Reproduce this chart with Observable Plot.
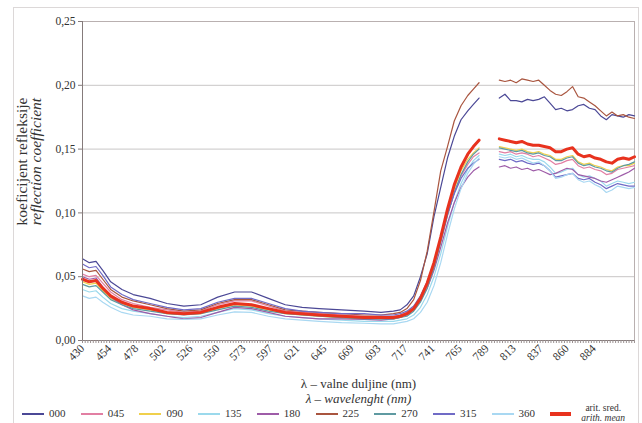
<!DOCTYPE html>
<html>
<head>
<meta charset="utf-8">
<script src="https://cdn.jsdelivr.net/npm/d3@7"></script>
<script src="https://cdn.jsdelivr.net/npm/@observablehq/plot@0.6"></script>
<style>
  body { margin: 0; background: #fff; }
  #wrap { position: relative; width: 642px; height: 423px; overflow: hidden; background: #fff;
          font-family: "Liberation Serif", "Times New Roman", "DejaVu Serif", serif; color: #333; }
  #frame { position: absolute; left: 13px; top: 7px; width: 624px; height: 440px; border: 1px solid #dcd8d8; }
  #chart { position: absolute; left: 0; top: 0; }
  #legend { position: absolute; left: 0; top: 403px; width: 642px; height: 20px; }
  .item { position: absolute; top: 0; height: 20px; }
  .swatch { position: absolute; left: 0; top: 10px; width: 22px; height: 2px; }
  .lab { position: absolute; left: 27px; top: 3px; font-size: 11px; line-height: 14px; white-space: nowrap; }
  .lab2 { position: absolute; left: 31px; top: 0px; font-size: 9.5px; line-height: 10px; white-space: nowrap; text-align: center; }
</style>
</head>
<body>
<div id="wrap">
  <div id="frame"></div>
  <div id="chart"></div>
  <div id="legend"></div>
</div>
<script>
// Wavelengths (nm); 791 marks the break in the measured spectrum
const wavelengths = [430,436,442,448,455,465,475,490,505,520,535,550,565,580,595,610,625,640,660,680,695,706,712,718,724,730,736,742,748,754,760,766,772,777,782,
  791,
  800,805,810,815,820,825,830,835,840,845,850,855,860,865,870,875,880,885,890,895,900,905,910,915,920];

// Reflection coefficient per measuring direction
const r000 = [.064,.061,.062,.055,.046,.040,.036,.033,.029,.027,.028,.034,.038,.038,.033,.028,.026,.025,.024,.023,.022,.023,.024,.028,.035,.050,.068,.097,.120,.143,.160,.173,.180,.185,.190,
  null,
  .190,.193,.188,.188,.187,.189,.188,.189,.191,.186,.181,.182,.180,.181,.184,.185,.182,.181,.176,.173,.177,.176,.175,.177,.176];
const r045 = [.052,.050,.051,.045,.038,.032,.029,.026,.024,.022,.023,.028,.031,.031,.027,.023,.022,.021,.020,.019,.019,.019,.020,.022,.026,.033,.044,.059,.078,.098,.116,.129,.138,.144,.147,
  null,
  .148,.147,.148,.146,.147,.146,.144,.145,.143,.141,.138,.139,.141,.142,.137,.135,.136,.134,.133,.130,.131,.134,.135,.136,.137];
const r090 = [.046,.044,.045,.039,.033,.029,.026,.024,.021,.0205,.021,.025,.028,.027,.024,.021,.020,.019,.018,.0175,.017,.017,.018,.020,.024,.032,.044,.060,.080,.101,.119,.133,.142,.147,.151,
  null,
  .152,.151,.150,.149,.150,.148,.147,.148,.146,.145,.142,.142,.144,.145,.140,.138,.139,.137,.136,.134,.133,.136,.137,.137,.139];
const r135 = [.040,.038,.039,.034,.029,.025,.023,.021,.019,.018,.019,.022,.025,.024,.021,.019,.018,.017,.016,.015,.015,.015,.016,.017,.020,.026,.036,.050,.068,.089,.108,.123,.134,.141,.145,
  null,
  .146,.145,.146,.144,.145,.143,.142,.142,.140,.136,.131,.132,.134,.135,.130,.128,.129,.127,.125,.121,.123,.125,.124,.123,.124];
const r180 = [.050,.048,.049,.042,.034,.028,.024,.021,.019,.017,.018,.022,.026,.025,.022,.019,.018,.017,.017,.0165,.016,.017,.018,.020,.024,.031,.041,.055,.073,.092,.108,.120,.128,.133,.136,
  null,
  .136,.137,.135,.136,.134,.135,.133,.134,.132,.130,.131,.133,.135,.134,.130,.129,.128,.127,.125,.124,.126,.128,.130,.132,.135];
const r225 = [.056,.054,.055,.048,.040,.034,.031,.028,.025,.023,.024,.029,.032,.032,.028,.024,.023,.022,.021,.020,.020,.021,.022,.025,.032,.047,.070,.101,.133,.152,.172,.184,.192,.197,.202,
  null,
  .204,.203,.204,.202,.205,.204,.203,.204,.200,.196,.193,.192,.195,.199,.191,.190,.187,.184,.180,.176,.179,.176,.177,.175,.174];
const r270 = [.044,.042,.043,.038,.032,.028,.025,.023,.021,.020,.021,.024,.027,.026,.023,.021,.020,.019,.018,.017,.017,.017,.018,.019,.023,.030,.041,.057,.077,.098,.116,.130,.140,.146,.150,
  null,
  .151,.150,.149,.148,.149,.147,.146,.147,.145,.144,.141,.141,.143,.144,.139,.137,.138,.136,.135,.133,.132,.135,.137,.138,.140];
const r315 = [.060,.057,.058,.051,.042,.036,.032,.029,.026,.024,.025,.030,.033,.033,.029,.025,.023,.022,.021,.021,.020,.020,.021,.023,.027,.035,.046,.061,.079,.099,.115,.127,.135,.139,.142,
  null,
  .142,.141,.142,.140,.141,.139,.138,.139,.137,.133,.128,.129,.130,.131,.127,.126,.127,.124,.122,.119,.121,.123,.122,.121,.121];
const r360 = [.035,.033,.034,.030,.026,.022,.020,.019,.017,.0165,.017,.020,.0225,.022,.019,.017,.016,.015,.014,.0135,.013,.013,.014,.015,.017,.022,.030,.043,.061,.083,.103,.119,.131,.138,.143,
  null,
  .144,.143,.144,.142,.143,.141,.139,.140,.137,.133,.127,.128,.130,.131,.126,.124,.125,.122,.120,.116,.118,.121,.120,.119,.120];
// Arithmetic mean of the nine directions
const rMean = [.048,.046,.047,.041,.035,.030,.027,.025,.022,.021,.022,.026,.029,.028,.025,.022,.021,.020,.019,.018,.018,.018,.019,.021,.025,.033,.045,.061,.081,.103,.122,.136,.146,.152,.157,
  null,
  .158,.157,.156,.155,.156,.154,.153,.153,.152,.151,.148,.148,.150,.151,.146,.144,.145,.143,.142,.140,.139,.142,.143,.142,.144];

const seriesNames = ["000","045","090","135","180","225","270","315","360"];
const seriesValues = [r000, r045, r090, r135, r180, r225, r270, r315, r360];
const seriesColors = ["#4b4896","#e27fa3","#f0d04c","#9bd9ec","#9e5ca8","#a9553f","#5f9aa1","#706bc6","#a9d8f2"];
const meanColor = "#e8321e";

const xTickLabels = [430,454,478,502,526,550,573,597,621,645,669,693,717,741,765,789,813,837,860,884];
const yTicks = [0, 0.05, 0.10, 0.15, 0.20, 0.25];

const rows = vals => wavelengths.map((w, i) => ({w, v: vals[i]}));
const minorTicks = d3.range(430, 920, 2.39);
const fmtY = d => d.toFixed(2).replace(".", ",");
const serif = "'Liberation Serif', 'Times New Roman', 'DejaVu Serif', serif";

const lineMarks = seriesValues.map((vals, k) =>
  Plot.line(rows(vals), {x: "w", y: "v", stroke: seriesColors[k], strokeWidth: 1.2})
);

const chart = Plot.plot({
  width: 642,
  height: 423,
  marginTop: 21,
  marginBottom: 83,
  marginLeft: 82,
  marginRight: 8,
  style: {fontFamily: serif, fontSize: "11px", color: "#333", background: "transparent"},
  x: {domain: [430, 920], axis: null},
  y: {domain: [0, 0.25], axis: null},
  marks: [
    Plot.ruleY(yTicks.slice(1, 5), {stroke: "#c8c6c6", strokeWidth: 1}),
    Plot.ruleY([0.25], {stroke: "#b9b0b0"}),
    Plot.ruleX([920], {stroke: "#b9b0b0"}),
    ...lineMarks,
    Plot.line(rows(rMean), {x: "w", y: "v", stroke: meanColor, strokeWidth: 3}),
    Plot.ruleX([430], {stroke: "#857b7b"}),
    Plot.ruleY([0], {stroke: "#857b7b"}),
    Plot.axisY({ticks: yTicks, tickFormat: fmtY, tickSize: 4, tickPadding: 3, stroke: "#857b7b", fontSize: 11.5, label: null}),
    Plot.axisX({ticks: minorTicks, tickSize: 3, tickFormat: () => "", stroke: "#9a9090", label: null}),
    Plot.axisX({ticks: xTickLabels, tickSize: 0, tickPadding: 6, tickRotate: -45, tickFormat: d => String(d), fontSize: 11.5, label: null}),
    Plot.text(["λ – valne duljine (nm)"], {frameAnchor: "bottom", dy: 43, fontSize: 13, lineAnchor: "middle", fill: "#333"}),
    Plot.text(["λ – wavelenght (nm)"], {frameAnchor: "bottom", dy: 58, fontSize: 13, fontStyle: "italic", lineAnchor: "middle", fill: "#333"}),
    Plot.text(["koeficijent refleksije"], {frameAnchor: "top-left", dx: -60, dy: 140, rotate: -90, fontSize: 15.5, textAnchor: "middle", lineAnchor: "middle", fill: "#333"}),
    Plot.text(["reflection coefficient"], {frameAnchor: "top-left", dx: -46, dy: 140, rotate: -90, fontSize: 15.5, fontStyle: "italic", textAnchor: "middle", lineAnchor: "middle", fill: "#333"})
  ]
});
document.getElementById("chart").appendChild(chart);

// Legend row below the plot area
const legend = document.getElementById("legend");
seriesNames.forEach((name, i) => {
  const item = document.createElement("div");
  item.className = "item";
  item.style.left = (22 + i * 58.7) + "px";
  item.innerHTML = `<div class="swatch" style="background:${seriesColors[i]}"></div><div class="lab">${name}</div>`;
  legend.appendChild(item);
});
const meanItem = document.createElement("div");
meanItem.className = "item";
meanItem.style.left = (22 + 9 * 58.7) + "px";
meanItem.innerHTML = `<div class="swatch" style="background:${meanColor};height:4px;top:9px;width:21px"></div>` +
  `<div class="lab2">arit. sred.<br><i>arith. mean</i></div>`;
legend.appendChild(meanItem);
</script>
</body>
</html>
